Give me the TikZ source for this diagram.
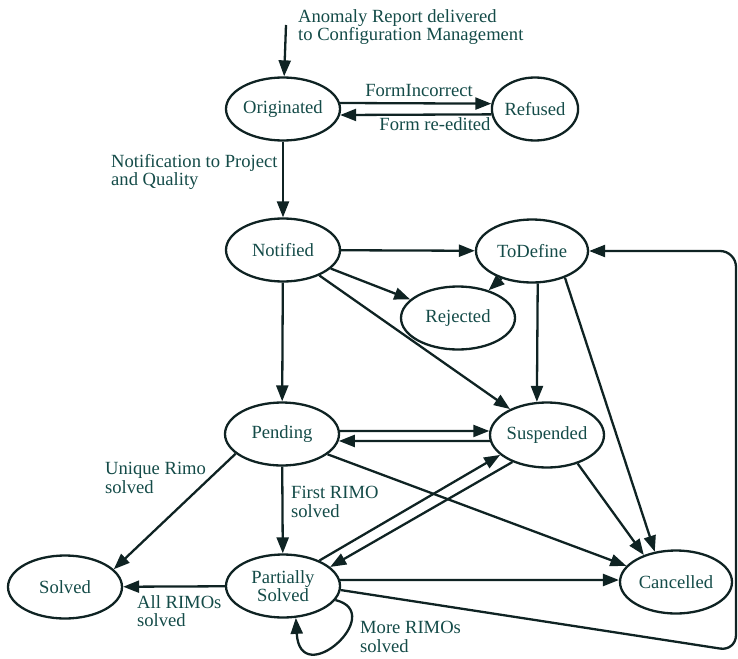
\documentclass[tikz,border=0pt]{standalone}
\usepackage{fontspec}
\setmainfont{Liberation Serif}
\usetikzlibrary{arrows.meta,shapes.geometric}
\definecolor{ln}{RGB}{15,35,35}
\definecolor{tx}{RGB}{20,75,72}
\newcommand{\lblfont}{\fontsize{18.6}{18.5}\selectfont}
\begin{document}
\begin{tikzpicture}[x=1pt,y=1pt,
  st/.style={ellipse, draw=ln, line width=2.3pt, minimum width=114pt, minimum height=63pt, inner sep=0pt, text=tx, font=\lblfont, align=center},
  arr/.style={draw=ln, line width=2.3pt, -{Triangle[length=16pt,width=12pt]}},
  lbl/.style={text=tx, font=\lblfont, align=left, inner sep=0pt, anchor=north west},
  elbl/.style={text=tx, font=\lblfont, inner sep=0pt, anchor=base}]
\useasboundingbox (0,0) rectangle (738,-658);

\node[st] (orig) at (283,-109) {Originated};
\node[st, minimum width=86pt] (ref) at (535,-109) {Refused};
\node[st] (notif) at (283,-250) {Notified};
\node[st, minimum width=112pt] (tod) at (532,-251) {ToDefine};
\node[st] (rej) at (458,-318) {Rejected};
\node[st, minimum height=65pt] (susp) at (547,-435) {Suspended};
\node[st] (pend) at (282,-434) {Pending};
\node[st] (solv) at (65,-587) {Solved};
\node[st] (ps) at (283,-586) {Partially\\Solved};
\node[st, minimum width=112pt] (canc) at (676,-582) {Cancelled};

\coordinate (in) at (286,-25);
\draw[arr] (in) -- (orig);
\node[lbl] (lin) at (298,-9) {Anomaly Report delivered\\to Configuration Management};

\draw[arr] (orig.6) -- (ref.173);
\draw[arr] (ref.187) -- (orig.-6);
\node[elbl] (lfi) at (419,-96) {FormIncorrect};
\node[elbl] (lfr) at (435,-131) {Form re-edited};

\draw[arr] (orig) -- (notif);
\node[lbl] (lnot) at (111,-154) {Notification to Project\\and Quality};

\draw[arr] (notif) -- (tod);
\draw[arr] (notif) -- (rej);
\draw[arr] (tod) -- (rej);
\draw[arr] (notif) -- (susp);
\draw[arr] (notif) -- (pend);
\draw[arr] (tod.-80) -- (susp.107);
\draw[arr] (tod.-39) -- (canc.125);

\draw[arr] (pend.3) -- (susp.176);
\draw[arr] (susp.186) -- (pend.-7);
\draw[arr] (pend.-24) -- (canc.162);
\draw[arr] (pend.203) -- (solv.20);
\node[lbl] (lur) at (105,-462) {Unique Rimo\\solved};
\draw[arr] (pend) -- (ps);
\node[lbl] (lfr2) at (291,-486) {First RIMO\\solved};

\draw[arr] (ps.35) -- (susp.203);
\draw[arr] (susp.218) -- (ps.22);
\draw[arr] (susp.-43) -- (canc.140);
\draw[arr] (ps.6) -- (canc.178);
\draw[arr] (ps) -- (solv);
\node[lbl] (lall) at (137,-595) {All RIMOs\\solved};

\draw[arr] (ps.-15) .. controls (388,-613) and (300,-692) .. (ps.-68);
\node[lbl] (lmore) at (360,-621) {More RIMOs\\solved};

\coordinate (c1) at (736,-651);
\coordinate (c2) at (736,-251);
\draw[arr, rounded corners=16pt] (ps.-4) -- (c1) -- (c2) -- (tod.east);
\end{tikzpicture}
\end{document}
